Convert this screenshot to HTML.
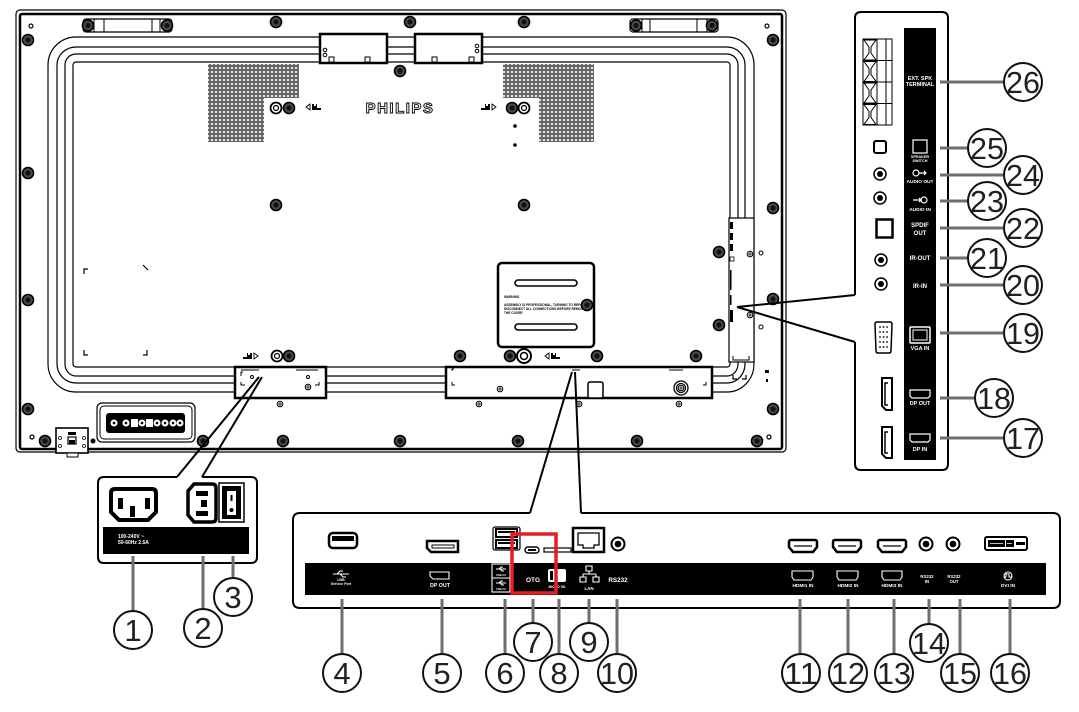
<!DOCTYPE html>
<html><head><meta charset="utf-8"><style>
html,body{margin:0;padding:0;background:#fff;}
svg{display:block;}
text{font-family:"Liberation Sans",sans-serif;}
.w{fill:#fff;font-weight:bold;text-anchor:middle;}
.n{fill:#231f20;font-size:31px;text-anchor:middle;}
</style></head><body>
<svg width="1079" height="712" viewBox="0 0 1079 712" xmlns="http://www.w3.org/2000/svg">
<defs>
<g id="s"><circle r="5.5" fill="#4a4a4a" stroke="#000" stroke-width="1.6"/><circle r="2.6" fill="#111"/></g>
<g id="sr"><circle r="5.5" fill="#fff" stroke="#000" stroke-width="1.8"/><circle r="2.5" fill="#fff" stroke="#000" stroke-width="1.2"/></g>
<g id="ss"><circle r="2.8" fill="#fff" stroke="#000" stroke-width="1"/><path d="M-2,0H2M0,-2V2" stroke="#000" stroke-width="0.8"/></g>
<pattern id="dots" x="0" y="0" width="4" height="4" patternUnits="userSpaceOnUse"><circle cx="2" cy="2" r="1.5" fill="#666" stroke="#111" stroke-width="0.6"/></pattern>
</defs>

<!-- ============ MONITOR BACK ============ -->
<rect x="16" y="10" width="770" height="442" rx="4" fill="#fff" stroke="#000" stroke-width="1.2"/>
<rect x="20" y="14" width="762" height="435" rx="2" fill="none" stroke="#000" stroke-width="2.5"/>

<!-- tracks -->
<g fill="none" stroke="#000" stroke-width="1.2">
<path d="M76,37H727M76,47H727M76,54H727M76,62H727"/>
<path d="M76,367H727M76,376H727M76,383H727M76,392H727"/>
<path d="M48,65V364M57,65V364M65,65V364M73,65V364"/>
<path d="M730,65V364M738,65V364M745,65V364M754,65V364"/>
<path d="M48,65A28,28 0 0 1 76,37M57,65A19,18 0 0 1 76,47M65,65A11,11 0 0 1 76,54M73,65A3,3 0 0 1 76,62"/>
<path d="M727,37A27,28 0 0 1 754,65M727,47A18,18 0 0 1 745,65M727,54A11,11 0 0 1 738,65M727,62A3,3 0 0 1 730,65"/>
<path d="M48,364A28,28 0 0 0 76,392M57,364A19,19 0 0 0 76,383M65,364A11,12 0 0 0 76,376M73,364A3,3 0 0 0 76,367"/>
<path d="M754,364A27,28 0 0 1 727,392M745,364A18,19 0 0 1 727,383M738,364A11,12 0 0 1 727,376M730,364A3,3 0 0 1 727,367"/>
</g>

<!-- handles -->
<g stroke="#000" fill="#fff">
<rect x="83" y="19" width="89" height="13" rx="3" stroke-width="1.2"/>
<path d="M94,19V32M104,19V32M152,19V32M160,19V32" stroke-width="1"/>
<rect x="630" y="19" width="88" height="13" rx="3" stroke-width="1.2"/>
<path d="M642,19V32M650,19V32M697,19V32M707,19V32" stroke-width="1"/>
</g>
<use href="#s" x="88" y="25.5"/><use href="#s" x="167" y="25.5"/>
<use href="#s" x="636" y="25.5"/><use href="#s" x="712" y="25.5"/>

<!-- top brackets -->
<g stroke="#000" fill="#fff">
<rect x="320" y="34" width="67" height="29" stroke-width="2.5"/>
<rect x="415" y="34" width="67" height="29" stroke-width="2.5"/>
<rect x="329" y="57" width="5" height="5" stroke-width="1"/><rect x="365" y="57" width="5" height="5" stroke-width="1"/>
<rect x="432" y="57" width="5" height="5" stroke-width="1"/><rect x="469" y="57" width="5" height="5" stroke-width="1"/>
<circle cx="325" cy="50" r="1.8" stroke-width="1"/><circle cx="325" cy="55" r="1.8" stroke-width="1"/>
<circle cx="477" cy="46" r="1.8" stroke-width="1"/><circle cx="477" cy="51" r="1.8" stroke-width="1"/>
</g>

<!-- speaker grids -->
<rect x="208" y="64" width="91" height="34" fill="url(#dots)"/>
<rect x="208" y="98" width="56" height="44" fill="url(#dots)"/>
<rect x="503" y="64" width="91" height="34" fill="url(#dots)"/>
<rect x="539" y="98" width="55" height="44" fill="url(#dots)"/>

<!-- PHILIPS -->
<text x="400" y="113" text-anchor="middle" font-family="Liberation Serif,serif" font-weight="bold" font-size="15" letter-spacing="1.5" fill="#fff" stroke="#000" stroke-width="0.9">PHILIPS</text>

<!-- small speaker icons -->
<g fill="#000">
<path d="M306,107l4,-3v6z" fill="none" stroke="#000" stroke-width="0.9"/><path d="M312,110V104h2v2h2v-2h1v4h4v2z"/>
<path d="M496,107l-4,-3v6z" fill="none" stroke="#000" stroke-width="0.9"/><path d="M490,110V104h-2v2h-2v-2h-1v4h-4v2z"/>
<path d="M258,356l-4,-3v6z" fill="none" stroke="#000" stroke-width="0.9"/><path d="M252,359V353h-2v2h-2v-2h-1v4h-4v2z"/>
<path d="M545,356l4,-3v6z" fill="none" stroke="#000" stroke-width="0.9"/><path d="M551,359V353h2v2h2v-2h1v4h4v2z"/>
</g>

<!-- VESA plate -->
<rect x="498" y="263" width="96" height="84" rx="4" fill="#fff" stroke="#000" stroke-width="2.5"/>
<rect x="515" y="280" width="62" height="6" rx="3" fill="#fff" stroke="#000" stroke-width="1.6"/>
<rect x="515" y="324" width="62" height="6" rx="3" fill="#fff" stroke="#000" stroke-width="1.6"/>
<g font-size="3.2" font-weight="bold" fill="#000">
<text x="504" y="298">WARNING</text>
<text x="504" y="306">ASSEMBLY IS PROFESSIONAL, TURNING TO REPAIR.</text>
<text x="504" y="310">DISCONNECT ALL CONNECTIONS BEFORE REMOVE</text>
<text x="504" y="314">THE COVER</text>
</g>
<path d="M498,275v8M498,323v8" stroke="#000" stroke-width="1.5"/>

<!-- right component strip -->
<rect x="729" y="218" width="25" height="144" fill="#fff" stroke="#000" stroke-width="1.2"/>
<g fill="#000">
<rect x="730" y="222" width="3" height="7"/><rect x="730" y="233" width="3" height="7"/><rect x="730" y="244" width="3" height="7"/>
<rect x="730" y="257" width="4" height="4" fill="none" stroke="#000" stroke-width="0.8"/>
<rect x="730" y="270" width="1.5" height="20"/><rect x="730" y="310" width="3" height="12"/><rect x="730" y="295" width="1.5" height="10"/>
</g>
<path d="M733,356v4h16v-4" fill="none" stroke="#000" stroke-width="1"/>

<!-- bottom brackets -->
<g stroke="#000" fill="#fff">
<rect x="235" y="367" width="91" height="31" stroke-width="2.5"/>
<rect x="446" y="367" width="266" height="31" stroke-width="2.5"/>
<rect x="588" y="382" width="15" height="16" rx="2" stroke-width="1.5"/>
<circle cx="681" cy="388" r="7" stroke-width="1.3"/><circle cx="681" cy="388" r="4.5" stroke-width="1.3"/>
</g>
<g fill="none" stroke="#000" stroke-width="1">
<path d="M241,376v-4h2M241,382v3h4M319,382v3h-4M452,371v-2h2M452,382v3h3M706,382v3h-3M241,370h18M296,370h22M580,370h-8M669,370h14"/>
</g>
<use href="#ss" x="308" y="387"/><use href="#ss" x="500" y="389"/><use href="#ss" x="681" y="388"/>
<circle cx="252" cy="377" r="1.5" fill="#fff" stroke="#000"/><circle cx="308" cy="377" r="1.5" fill="#fff" stroke="#000"/>

<!-- corner marks on panel -->
<g fill="none" stroke="#000" stroke-width="1.2">
<path d="M84,274v-5h4M84,350v5h4M147,350v5h-4M143,265l5,5M733,375v4h4M746,375v4h-4"/>
</g>

<!-- screws -->
<use href="#s" x="276" y="22"/><use href="#s" x="410" y="22"/><use href="#s" x="524" y="22"/>
<use href="#s" x="28" y="40"/><use href="#s" x="28" y="173"/><use href="#s" x="28" y="300"/><use href="#s" x="28" y="409"/>
<use href="#s" x="45" y="441"/><use href="#s" x="203" y="441"/><use href="#s" x="283" y="441"/><use href="#s" x="400" y="441"/><use href="#s" x="518" y="441"/><use href="#s" x="637" y="441"/><use href="#s" x="757" y="441"/>
<use href="#s" x="773" y="40"/><use href="#s" x="773" y="208"/><use href="#s" x="773" y="299"/><use href="#s" x="773" y="409"/>
<use href="#s" x="400" y="71"/><use href="#s" x="276" y="205"/><use href="#s" x="524" y="205"/>
<use href="#sr" x="276" y="108"/><use href="#s" x="289" y="108"/><use href="#s" x="512" y="108"/><use href="#sr" x="524" y="108"/>
<use href="#sr" x="277" y="356"/><use href="#s" x="289" y="356"/>
<use href="#s" x="460" y="356"/><use href="#s" x="510" y="356"/><use href="#s" x="597" y="356"/><use href="#s" x="696" y="356"/>
<circle cx="524" cy="356" r="7" fill="#fff" stroke="#000" stroke-width="2"/><circle cx="524" cy="356" r="3.5" fill="#fff" stroke="#000" stroke-width="1.5"/>
<use href="#s" x="719" y="252"/><use href="#s" x="719" y="325"/><use href="#s" x="587" y="305"/>
<use href="#ss" x="280" y="404"/><use href="#ss" x="479" y="404"/><use href="#ss" x="579" y="404"/><use href="#ss" x="679" y="404"/>
<use href="#ss" x="750" y="254"/><use href="#ss" x="750" y="315"/>
<circle cx="761" cy="253" r="2" fill="#fff" stroke="#000"/><circle cx="761" cy="327" r="2" fill="#fff" stroke="#000"/>
<circle cx="515" cy="126" r="1.8" fill="#000"/><circle cx="515" cy="145" r="1.8" fill="#000"/>
<circle cx="31" cy="26" r="2" fill="#fff" stroke="#000" stroke-width="1.2"/><circle cx="767" cy="26" r="2" fill="#fff" stroke="#000" stroke-width="1.2"/>
<circle cx="32" cy="437" r="2" fill="#fff" stroke="#000" stroke-width="1.2"/><circle cx="769" cy="437" r="2" fill="#fff" stroke="#000" stroke-width="1.2"/>
<circle cx="93" cy="441" r="2.5" fill="#000"/>
<rect x="765" y="370" width="4" height="3" fill="#000"/><rect x="766" y="379" width="2" height="3" fill="#000"/>

<!-- grille bottom-left -->
<rect x="97" y="403" width="98" height="39" rx="5" fill="#fff" stroke="#000" stroke-width="1.2"/>
<rect x="100" y="406" width="92" height="33" rx="4" fill="none" stroke="#000" stroke-width="1"/>
<rect x="106" y="413" width="79" height="20" rx="3" fill="#000"/>
<g fill="#fff">
<circle cx="114" cy="423" r="3.5"/><circle cx="126" cy="423" r="3.5"/><rect x="131" y="419" width="7" height="8"/><circle cx="142" cy="423" r="3.5"/>
<rect x="146" y="419" width="7" height="8"/><circle cx="157" cy="423" r="3.5"/><circle cx="165" cy="423" r="3.5"/><circle cx="173" cy="423" r="3.5"/><circle cx="180" cy="423" r="3.5"/>
</g>
<g fill="#000"><circle cx="114" cy="423" r="1.3"/><circle cx="126" cy="423" r="1.3"/><circle cx="142" cy="423" r="1.3"/><circle cx="157" cy="423" r="1.3"/><circle cx="165" cy="423" r="1.3"/><circle cx="173" cy="423" r="1.3"/><circle cx="180" cy="423" r="1.3"/></g>

<!-- small box bottom-left -->
<rect x="56" y="428" width="32" height="25" fill="#fff" stroke="#000" stroke-width="1.6"/>
<rect x="67" y="453" width="11" height="4" fill="#fff" stroke="#000" stroke-width="1"/>
<rect x="68" y="432" width="8" height="3" fill="#000"/>
<rect x="68" y="437" width="8" height="7" fill="#fff" stroke="#000" stroke-width="1.2"/><rect x="69" y="440" width="6" height="4" fill="#000"/>
<circle cx="60" cy="438" r="1.5" fill="#fff" stroke="#000" stroke-width="0.8"/><circle cx="60" cy="446" r="1.5" fill="#fff" stroke="#000" stroke-width="0.8"/>
<circle cx="84" cy="438" r="1.5" fill="#fff" stroke="#000" stroke-width="0.8"/><circle cx="84" cy="446" r="1.5" fill="#fff" stroke="#000" stroke-width="0.8"/>

<!-- callout lines -->
<g stroke="#000" stroke-width="2" fill="none">
<path d="M259,377L177,477M262,377L202,477"/>
<path d="M572,372L530,513M575,372L581,513"/>
<path d="M737,307L855,295M737,307L855,342"/>
</g>

<!-- ============ POWER BOX ============ -->
<path d="M177,477H104Q98,477 98,483V557Q98,563 104,563H251Q257,563 257,557V483Q257,477 251,477H202" fill="none" stroke="#000" stroke-width="2"/>
<rect x="103" y="527" width="146" height="27" fill="#000"/>
<text x="118" y="538" font-size="5" font-weight="bold" fill="#fff">100-240V ~</text>
<text x="118" y="544" font-size="5" font-weight="bold" fill="#fff">50-60Hz 2.5A</text>
<path d="M115,489H152Q156,489 156,493V512L148,520H119L111,512V493Q111,489 115,489Z" fill="#fff" stroke="#000" stroke-width="4"/>
<rect x="118" y="498" width="5" height="11" fill="#000"/><rect x="145" y="498" width="5" height="11" fill="#000"/><rect x="130" y="506" width="5" height="11" fill="#000"/>
<path d="M194,484H212Q216,484 216,488V518Q216,522 212,522H194L188,515V491Z" fill="#fff" stroke="#000" stroke-width="3.5"/>
<rect x="196" y="491" width="12" height="5" fill="#000"/><rect x="201" y="500" width="6" height="7" fill="#000"/><rect x="196" y="511" width="12" height="5" fill="#000"/>
<rect x="219" y="483" width="25" height="39" fill="#fff" stroke="#000" stroke-width="1.5"/>
<rect x="222" y="486" width="19" height="33" fill="#000"/>
<rect x="227" y="491" width="9" height="24" fill="#fff"/>
<rect x="230.5" y="495" width="2" height="6" fill="#000"/><circle cx="231.5" cy="510" r="2" fill="#000"/>

<!-- ============ BOTTOM PANEL ============ -->
<path d="M530,513H300Q293,513 293,520V601Q293,608 300,608H1053Q1060,608 1060,601V520Q1060,513 1053,513H581" fill="none" stroke="#000" stroke-width="2"/>
<rect x="305" y="563" width="741" height="32" fill="#000"/>

<!-- top ports -->
<rect x="329" y="533" width="28" height="15" rx="4" fill="#fff" stroke="#000" stroke-width="2.5"/>
<rect x="332" y="536" width="22" height="5" fill="#000"/>
<path d="M427,541H458V552H431L427,548Z" fill="#fff" stroke="#000" stroke-width="2.5"/>
<rect x="432" y="545" width="22" height="3" fill="none" stroke="#000" stroke-width="1"/>
<rect x="493" y="527" width="27" height="23" rx="2" fill="#f2f2f2" stroke="#000" stroke-width="1.2"/>
<rect x="496" y="529" width="21" height="8" fill="#fff" stroke="#000" stroke-width="2"/>
<rect x="496" y="540" width="21" height="8" fill="#fff" stroke="#000" stroke-width="2"/>
<rect x="498" y="531" width="17" height="2" fill="#000"/><rect x="498" y="542" width="17" height="2" fill="#000"/>
<rect x="525" y="547" width="14" height="6" rx="3" fill="#fff" stroke="#000" stroke-width="1.4"/>
<rect x="528" y="549" width="8" height="2" fill="#000"/>
<rect x="544" y="548" width="27" height="4" fill="#fff" stroke="#000" stroke-width="1.2"/>
<rect x="573" y="528" width="31" height="24" fill="#fff" stroke="#000" stroke-width="2.5"/>
<path d="M578,533H599V545H594V548H583V545H578Z" fill="none" stroke="#000" stroke-width="1.3"/>
<circle cx="618" cy="544" r="6.5" fill="#fff" stroke="#000" stroke-width="2"/><circle cx="618" cy="544" r="3.3" fill="#000"/>

<g fill="#fff" stroke="#000">
<path d="M791,540H815Q817,540 817,542V547L813,552H793L789,547V542Q789,540 791,540Z" stroke-width="2.5"/>
<path d="M835,540H859Q861,540 861,542V547L857,552H837L833,547V542Q833,540 835,540Z" stroke-width="2.5"/>
<path d="M880,540H904Q906,540 906,542V547L902,552H882L878,547V542Q878,540 880,540Z" stroke-width="2.5"/>
</g>
<path d="M794,546H812M838,546H856M883,546H901" stroke="#000" stroke-width="1.2"/>
<circle cx="926" cy="544" r="6.5" fill="#fff" stroke="#000" stroke-width="2"/><circle cx="926" cy="544" r="3.3" fill="#000"/>
<circle cx="953" cy="544" r="6.5" fill="#fff" stroke="#000" stroke-width="2"/><circle cx="953" cy="544" r="3.3" fill="#000"/>
<rect x="985" y="537" width="42" height="13" rx="2" fill="#fff" stroke="#000" stroke-width="2"/>
<rect x="988" y="540" width="17" height="7" fill="#000"/><rect x="1006" y="540" width="8" height="7" fill="#000"/><rect x="1016" y="542" width="9" height="3" fill="#000"/>
<path d="M990,543.5H1003M1007,543.5H1012" stroke="#fff" stroke-width="0.7"/>

<!-- strip labels -->
<g stroke="#fff" fill="none" stroke-width="1.1">
<path d="M333,574H349M337,574l3,-3h3M340,574l3,3h3"/>
<path d="M430,572H449V579H433L430,576Z"/>
<rect x="492" y="564" width="18" height="28"/><path d="M492,578H510"/>
<path d="M496,569H506M499,569l2,-2h2M500,569l2,2h2M496,583H506M499,583l2,-2h2M500,583l2,2h2"/>
<path d="M586,566h6v5h-6zM580,577h6v5h-6zM593,577h6v5h-6zM589,571v3M583,574H596M583,574v3M596,574v3"/>
<path d="M792,571H813V577L811,580H794L792,577Z"/>
<path d="M837,571H858V577L856,580H839L837,577Z"/>
<path d="M882,571H902V577L900,580H884L882,577Z"/>
<circle cx="1008" cy="576" r="4"/><path d="M1004,577h2v-3h3v3h3"/>
</g>
<rect x="548" y="569" width="18" height="13" rx="2" fill="#fff"/>
<rect x="550" y="571" width="3" height="9" fill="#000"/>
<g class="w">
<text x="341" y="581" font-size="3.5">USB</text>
<text x="341" y="585" font-size="3.5">Service Port</text>
<text x="440" y="587" font-size="5.3">DP OUT</text>
<text x="501" y="576" font-size="2.6">USB 3.0</text>
<text x="501" y="590" font-size="2.6">USB 3.0</text>
<text x="533" y="582" font-size="6.5">OTG</text>
<text x="557" y="588" font-size="3.4">MICRO SD</text>
<text x="589" y="590" font-size="4.4">LAN</text>
<text x="618" y="582" font-size="6.3">RS232</text>
<text x="803" y="587" font-size="4.8">HDMI1 IN</text>
<text x="848" y="587" font-size="4.8">HDMI2 IN</text>
<text x="892" y="587" font-size="4.8">HDMI3 IN</text>
<text x="927" y="578" font-size="4.3">RS232</text>
<text x="927" y="583" font-size="4.3">IN</text>
<text x="954" y="578" font-size="4.3">RS232</text>
<text x="954" y="583" font-size="4.3">OUT</text>
<text x="1008" y="587" font-size="4.8">DVI IN</text>
</g>

<!-- red highlight -->
<rect x="512" y="534" width="44" height="59" fill="none" stroke="#e31e26" stroke-width="3.5"/>

<!-- ============ RIGHT PANEL ============ -->
<path d="M855,295V18Q855,12 861,12H942Q948,12 948,18V464Q948,470 942,470H861Q855,470 855,464V342" fill="none" stroke="#000" stroke-width="2"/>
<rect x="904" y="28" width="32" height="432" fill="#000"/>

<g fill="#fff" stroke="#000" stroke-width="1">
<rect x="863" y="39" width="29" height="21.5"/><rect x="863" y="60.5" width="29" height="21.5"/><rect x="863" y="82" width="29" height="21.5"/><rect x="863" y="103.5" width="29" height="21.5"/>
<path d="M877,39V125M886,39V125"/>
<path d="M864,40H876L871,47V53L876,60H864L869,53V47Z M864,61.5H876L871,68.5V74.5L876,81.5H864L869,74.5V68.5Z M864,83H876L871,90V96L876,103H864L869,96V90Z M864,104.5H876L871,111.5V117.5L876,124.5H864L869,117.5V111.5Z"/>
</g>
<rect x="874" y="141" width="12" height="12" rx="2" fill="#fff" stroke="#000" stroke-width="2"/>
<circle cx="880" cy="174" r="6" fill="#fff" stroke="#000" stroke-width="1.5"/><circle cx="880" cy="174" r="3" fill="#000"/>
<circle cx="880" cy="198" r="6" fill="#fff" stroke="#000" stroke-width="1.5"/><circle cx="880" cy="198" r="3" fill="#000"/>
<rect x="876.5" y="219.5" width="16" height="18" fill="#fff" stroke="#000" stroke-width="2.5"/>
<circle cx="881" cy="260" r="6" fill="#fff" stroke="#000" stroke-width="1.5"/><circle cx="881" cy="260" r="3" fill="#000"/>
<circle cx="881" cy="284" r="6" fill="#fff" stroke="#000" stroke-width="1.5"/><circle cx="881" cy="284" r="3" fill="#000"/>
<path d="M877,322H890Q892,322 892,324L891,351Q891,353 889,353H878Q876,353 876,351L875,324Q875,322 877,322Z" fill="#fff" stroke="#000" stroke-width="1.5"/>
<g fill="#000">
<circle cx="880" cy="327" r="0.9"/><circle cx="883.5" cy="327" r="0.9"/><circle cx="887" cy="327" r="0.9"/>
<circle cx="880" cy="332" r="0.9"/><circle cx="883.5" cy="332" r="0.9"/><circle cx="887" cy="332" r="0.9"/>
<circle cx="880" cy="337" r="0.9"/><circle cx="883.5" cy="337" r="0.9"/><circle cx="887" cy="337" r="0.9"/>
<circle cx="880" cy="342" r="0.9"/><circle cx="883.5" cy="342" r="0.9"/><circle cx="887" cy="342" r="0.9"/>
<circle cx="880" cy="347" r="0.9"/><circle cx="883.5" cy="347" r="0.9"/><circle cx="887" cy="347" r="0.9"/>
</g>
<path d="M882,378H892V410H886L882,406Z" fill="#fff" stroke="#000" stroke-width="2"/>
<path d="M888,383H885V405H888" fill="none" stroke="#000" stroke-width="1.5"/>
<path d="M882,427H892V458H886L882,454Z" fill="#fff" stroke="#000" stroke-width="2"/>
<path d="M888,432H885V453H888" fill="none" stroke="#000" stroke-width="1.5"/>

<!-- right strip icons -->
<g stroke="#fff" fill="none" stroke-width="1.2">
<rect x="913" y="140" width="14" height="13"/>
<circle cx="916" cy="173" r="3"/><path d="M919,173H926M924,171l2,2l-2,2"/>
<circle cx="924" cy="200" r="3"/><path d="M913,200H921M919,198l2,2l-2,2"/>
<rect x="910" y="327" width="20" height="16" rx="1" stroke-width="1.5"/><rect x="913" y="330" width="14" height="10" stroke-width="1"/>
<path d="M910,390H930V396L928,398H912L910,396Z"/>
<path d="M910,434H930V440L928,442H912L910,440Z"/>
</g>
<g class="w">
<text x="920" y="80" font-size="5.5">EXT. SPK</text>
<text x="920" y="86" font-size="5.5">TERMINAL</text>
<text x="920" y="158" font-size="3.8">SPEAKER</text>
<text x="920" y="162" font-size="3.8">SWITCH</text>
<text x="920" y="183" font-size="4.8">AUDIO OUT</text>
<text x="920" y="211" font-size="4.8">AUDIO IN</text>
<text x="920" y="227" font-size="6">SPDIF</text>
<text x="920" y="235" font-size="6">OUT</text>
<text x="920" y="260" font-size="6">IR-OUT</text>
<text x="920" y="288" font-size="6">IR-IN</text>
<text x="920" y="350" font-size="5.5">VGA IN</text>
<text x="920" y="405" font-size="5.5">DP OUT</text>
<text x="920" y="451" font-size="5.5">DP IN</text>
</g>

<!-- ============ LEADERS ============ -->
<g stroke="#6d6e71" stroke-width="3" fill="none">
<path d="M133,556V612M203,556V610M233,556V579"/>
<path d="M342,599V655M442,599V655M505,599V655M533,599V624M559,599V655M589,599V624M617,599V655"/>
<path d="M800,599V655M848,599V655M894,599V655M929,599V625M960,599V655M1010,599V655"/>
<path d="M940,82H1005M940,148H969M940,175H1005M940,201H969M940,228H1005M940,258H969M940,285H1005M940,333H1005M940,398H976M940,438H1005"/>
</g>

<!-- ============ NUMBER CIRCLES ============ -->
<g fill="#fff" stroke="#111" stroke-width="2">
<circle cx="133" cy="630" r="19"/><circle cx="203" cy="628" r="19"/><circle cx="233" cy="597" r="19"/>
<circle cx="342" cy="673" r="19"/><circle cx="442" cy="673" r="19"/><circle cx="505" cy="673" r="19"/>
<circle cx="533" cy="642" r="19"/><circle cx="559" cy="673" r="19"/><circle cx="589" cy="642" r="19"/><circle cx="617" cy="673" r="19"/>
<circle cx="801" cy="673" r="19"/><circle cx="848" cy="673" r="19"/><circle cx="894" cy="673" r="19"/><circle cx="929" cy="643" r="19"/><circle cx="960" cy="673" r="19"/><circle cx="1010" cy="673" r="19"/>
<circle cx="1023" cy="438" r="19"/><circle cx="994" cy="398" r="19"/><circle cx="1023" cy="333" r="19"/><circle cx="1023" cy="285" r="19"/><circle cx="987" cy="258" r="19"/>
<circle cx="1023" cy="228" r="19"/><circle cx="987" cy="201" r="19"/><circle cx="1023" cy="175" r="19"/><circle cx="987" cy="148" r="19"/><circle cx="1023" cy="82" r="19"/>
</g>
<g class="n">
<text x="133" y="641">1</text><text x="203" y="639">2</text><text x="233" y="608">3</text>
<text x="342" y="684">4</text><text x="442" y="684">5</text><text x="505" y="684">6</text>
<text x="533" y="653">7</text><text x="559" y="684">8</text><text x="589" y="653">9</text>
<text x="617" y="684" textLength="34" lengthAdjust="spacingAndGlyphs">10</text>
<text x="801" y="684" textLength="34" lengthAdjust="spacingAndGlyphs">11</text>
<text x="848" y="684" textLength="34" lengthAdjust="spacingAndGlyphs">12</text>
<text x="894" y="684" textLength="34" lengthAdjust="spacingAndGlyphs">13</text>
<text x="929" y="654" textLength="34" lengthAdjust="spacingAndGlyphs">14</text>
<text x="960" y="684" textLength="34" lengthAdjust="spacingAndGlyphs">15</text>
<text x="1010" y="684" textLength="34" lengthAdjust="spacingAndGlyphs">16</text>
<text x="1023" y="449" textLength="34" lengthAdjust="spacingAndGlyphs">17</text>
<text x="994" y="409" textLength="34" lengthAdjust="spacingAndGlyphs">18</text>
<text x="1023" y="344" textLength="34" lengthAdjust="spacingAndGlyphs">19</text>
<text x="1023" y="296" textLength="34" lengthAdjust="spacingAndGlyphs">20</text>
<text x="987" y="269" textLength="34" lengthAdjust="spacingAndGlyphs">21</text>
<text x="1023" y="239" textLength="34" lengthAdjust="spacingAndGlyphs">22</text>
<text x="987" y="212" textLength="34" lengthAdjust="spacingAndGlyphs">23</text>
<text x="1023" y="186" textLength="34" lengthAdjust="spacingAndGlyphs">24</text>
<text x="987" y="159" textLength="34" lengthAdjust="spacingAndGlyphs">25</text>
<text x="1023" y="93" textLength="34" lengthAdjust="spacingAndGlyphs">26</text>
</g>
</svg>
</body></html>
